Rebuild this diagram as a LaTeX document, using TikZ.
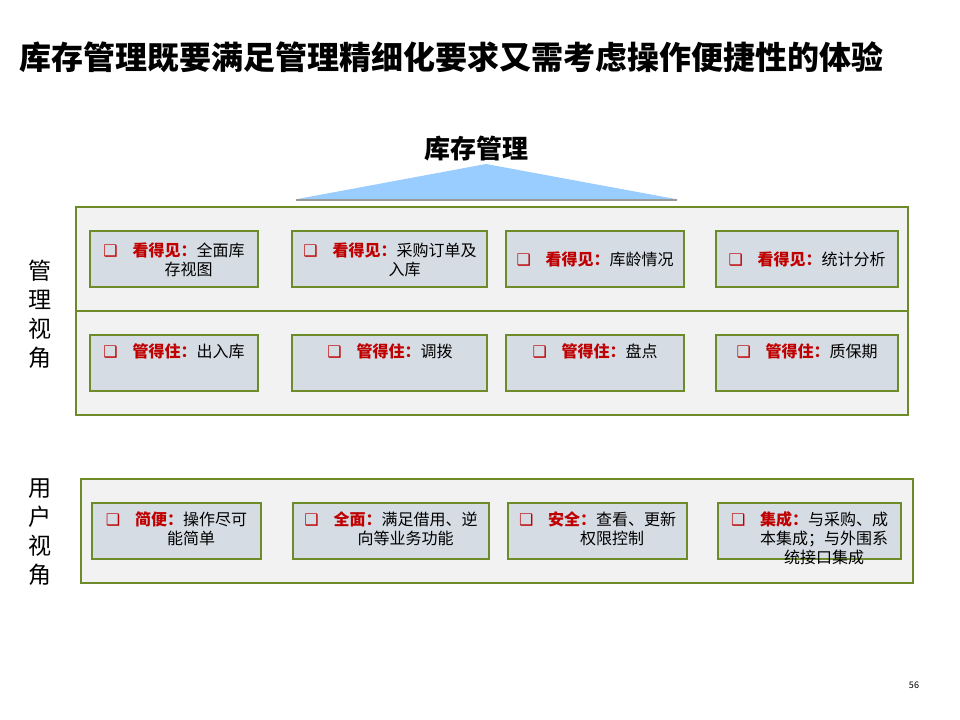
\documentclass[tikz,border=0pt]{standalone}
\usepackage{fontspec}
\setmainfont{Noto Sans CJK SC}
\newfontfamily\dv{DejaVu Sans}
\definecolor{olivebd}{HTML}{6E8B2A}
\definecolor{boxfill}{HTML}{D6DCE4}
\definecolor{outfill}{HTML}{F2F2F2}
\definecolor{labred}{HTML}{C00000}
\definecolor{triblue}{HTML}{99CCFF}
\newcommand{\ck}{{\color{labred}\dv ❑}\hspace{11pt}}
\newcommand{\lab}[1]{{\color{labred}\bfseries #1}}
\newcommand{\ind}{\hspace*{22pt}}
\begin{document}
\begin{tikzpicture}[x=0.75pt,y=-0.75pt,
  outerbox/.style={draw=olivebd,fill=outfill,line width=0.8pt},
  inbox/.style={draw=olivebd,fill=boxfill,line width=0.8pt},
  txt/.style={align=center,inner sep=0pt,font=\fontsize{12}{14.25}\selectfont},
  toptxt/.style={txt,anchor=north},
  side/.style={align=center,inner sep=0pt,font=\fontsize{17.3}{21.75}\selectfont}]
\useasboundingbox (0,0) rectangle (960,720);
\fill[white] (0,0) rectangle (960,720);

% title
\node[anchor=west,inner sep=0pt,font=\bfseries\fontsize{24}{28}\selectfont] (title) at (19,57)
  {库存管理既要满足管理精细化要求又需考虑操作便捷性的体验};

% heading and triangle
\node[inner sep=0pt,font=\bfseries\fontsize{19.5}{23}\selectfont] (head) at (476,149) {库存管理};
\fill[triblue] (295,199.5) -- (486,164) -- (678,199.5) -- cycle;
\draw[gray!80,line width=0.8pt] (296,200) -- (677,200);

% management box
\draw[outerbox] (76,207) rectangle (908,415);
\draw[draw=olivebd,line width=0.8pt] (76,311) -- (908,311);

% row 1 boxes
\draw[inbox] (90,231) rectangle (258,287);
\draw[inbox] (292,231) rectangle (487,287);
\draw[inbox] (506,231) rectangle (684,287);
\draw[inbox] (716,231) rectangle (898,287);
% row 2 boxes
\draw[inbox] (90,335) rectangle (258,391);
\draw[inbox] (292,335) rectangle (487,391);
\draw[inbox] (506,335) rectangle (684,391);
\draw[inbox] (716,335) rectangle (898,391);

\node[txt] (v1) at (174,259.5) {\ck\lab{看得见：}全面库\\\ind 存视图};
\node[txt] (v2) at (390,259.5) {\ck\lab{看得见：}采购订单及\\\ind 入库};
\node[txt] (v3) at (595,259.5) {\ck\lab{看得见：}库龄情况};
\node[txt] (v4) at (807,259.5) {\ck\lab{看得见：}统计分析};

\node[toptxt] (g1) at (174,343) {\ck\lab{管得住：}出入库};
\node[toptxt] (g2) at (390,343) {\ck\lab{管得住：}调拨};
\node[toptxt] (g3) at (595,343) {\ck\lab{管得住：}盘点};
\node[toptxt] (g4) at (807,343) {\ck\lab{管得住：}质保期};

% user box
\draw[outerbox] (81,479) rectangle (913,583);
\draw[inbox] (92,503) rectangle (261,559);
\draw[inbox] (293,503) rectangle (489,559);
\draw[inbox] (508,503) rectangle (687,559);
\draw[inbox] (718,503) rectangle (901,559);

\node[toptxt] (u1) at (176.5,511) {\ck\lab{简便：}操作尽可\\\ind 能简单};
\node[toptxt] (u2) at (391,511) {\ck\lab{全面：}满足借用、逆\\\ind 向等业务功能};
\node[toptxt] (u3) at (597.5,511) {\ck\lab{安全：}查看、更新\\\ind 权限控制};
\node[toptxt] (u4) at (809.5,511) {\ck\lab{集成：}与采购、成\\\ind 本集成；与外围系\\\ind 统接口集成};

% side labels
\node[side] (s1) at (40.5,314) {管\\理\\视\\角};
\node[side] (s2) at (40.5,532) {用\\户\\视\\角};

% page number
\node[inner sep=0pt,font=\fontsize{6.8}{8}\selectfont] (pg) at (914,685) {56};
\end{tikzpicture}
\end{document}
